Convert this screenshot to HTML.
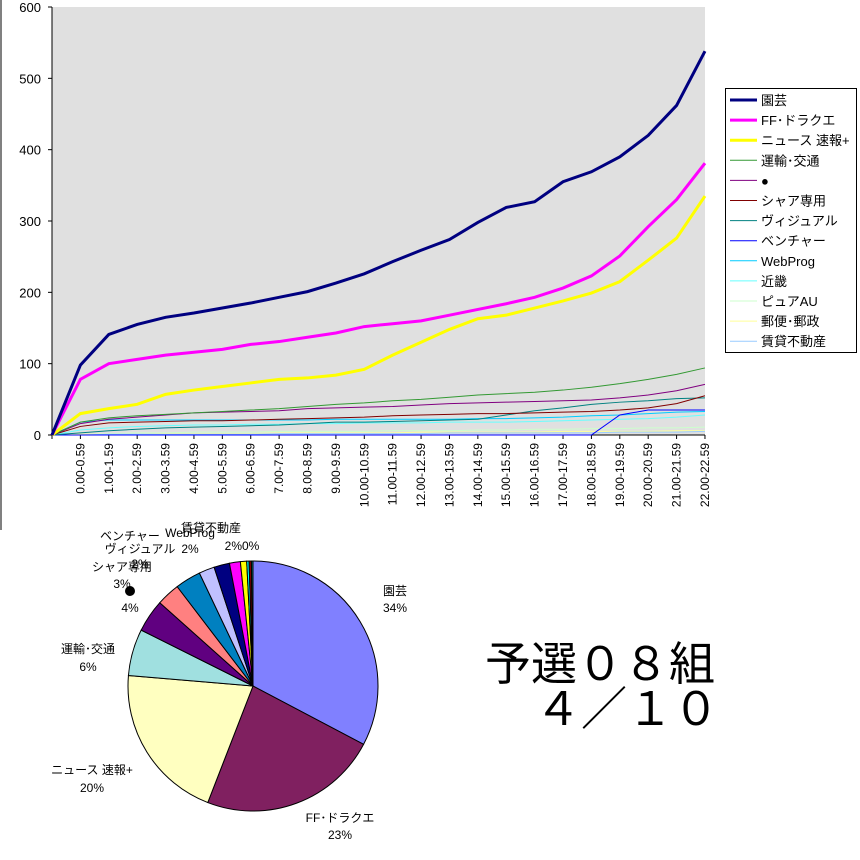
<!DOCTYPE html>
<html><head><meta charset="utf-8"><style>
html,body{margin:0;padding:0;background:#fff;width:860px;height:860px;overflow:hidden}
text{font-family:"Liberation Sans","Noto Sans CJK JP",sans-serif}
</style></head><body>
<svg id="s" width="860" height="860" xmlns="http://www.w3.org/2000/svg">
<line x1="1" y1="0" x2="1" y2="530" stroke="#000"/>
<rect x="52" y="7" width="653" height="428" fill="#e0e0e0"/>
<g id="g"></g>
<rect x="725.5" y="88.5" width="131" height="264" fill="#fff" stroke="#000"/>
<g id="leg"></g>
<text x="485" y="680" font-size="46">予選０８組</text>
<text x="535" y="725" font-size="46">４／１０</text>
<g id="pie"></g>
</svg>
<script>
const NS="http://www.w3.org/2000/svg";
function el(p,t,a,txt){const e=document.createElementNS(NS,t);for(const k in a)e.setAttribute(k,a[k]);if(txt!==undefined)e.textContent=txt;p.appendChild(e);return e;}
const g=document.getElementById('g');
const X=i=>52+i*28.39, Y=v=>435-v*428/600;
el(g,'line',{x1:52,y1:7,x2:52,y2:435,stroke:'#000'});
el(g,'line',{x1:52,y1:435,x2:705,y2:435,stroke:'#000'});
for(let v=0;v<=600;v+=100){el(g,'line',{x1:48,y1:Y(v),x2:52,y2:Y(v),stroke:'#000'});el(g,'text',{x:41,y:Y(v)+5,'font-size':13,'text-anchor':'end'},v);}
for(let i=0;i<=23;i++)el(g,'line',{x1:X(i),y1:435,x2:X(i),y2:439,stroke:'#000'});
for(let i=0;i<23;i++){const x=X(i+1)+4;el(g,'text',{x:x,y:443,'font-size':12,transform:`rotate(-90 ${x} 443)`,'text-anchor':'end'},i+'.00-'+i+'.59');}
const series=[
['#000080',3,[0,98,141,155,165,171,178,185,193,201,213,226,243,259,274,298,319,327,355,369,390,420,462,538],'園芸'],
['#ff00ff',3,[0,78,100,106,112,116,120,127,131,137,143,152,156,160,168,176,184,193,206,223,251,292,330,381],'FF･ドラクエ'],
['#ffff00',3,[0,30,37,43,57,63,68,73,78,80,84,92,112,130,148,163,168,178,188,199,215,245,276,335],'ニュース 速報+'],
['#339933',1,[0,18,24,27,29,31,33,35,37,40,43,45,48,50,53,56,58,60,63,67,72,78,85,94],'運輸･交通'],
['#800080',1,[0,16,22,25,28,31,32,33,34,37,38,39,40,42,44,45,46,47,48,49,52,56,62,71],'●'],
['#800000',1,[0,12,17,18,19,20,20,21,22,23,24,25,27,28,29,30,30,31,32,33,35,38,44,55],'シャア専用'],
['#008080',1,[0,3,6,8,10,11,12,13,14,16,18,18,19,20,21,22,28,34,38,43,46,48,51,52],'ヴィジュアル'],
['#0000ff',1,[0,0,0,0,0,0,0,0,0,0,0,0,0,0,0,0,0,0,0,0,28,35,35,35],'ベンチャー'],
['#00ccff',1,[0,18,21,21,21,21,21,21,21,21,22,22,22,22,22,23,23,24,25,27,28,30,32,33],'WebProg'],
['#66ffff',1,[0,7,10,12,13,14,14,15,15,16,16,17,17,17,18,18,18,19,20,21,22,23,25,28],'近畿'],
['#ccffcc',1,[0,1,2,3,3,4,4,4,5,5,5,5,6,6,6,7,7,8,8,9,9,10,10,11],'ピュアAU'],
['#ffff99',1,[0,1,1,1,2,2,2,2,3,3,3,3,3,4,4,4,4,4,5,5,5,5,6,6],'郵便･郵政'],
['#99ccff',1,[0,0,1,1,1,1,1,1,2,2,2,2,2,2,3,3,3,3,3,3,4,4,4,5],'賃貸不動産']];
const order=[10,11,12,9,8,7,6,5,4,3,2,1,0];
for(const k of order){const s=series[k];el(g,'polyline',{points:s[2].map((v,i)=>X(i)+','+Y(v)).join(' '),fill:'none',stroke:s[0],'stroke-width':s[1]});}
const leg=document.getElementById('leg');
series.forEach((s,i)=>{const y=100+i*20.1;el(leg,'line',{x1:730,y1:y,x2:757,y2:y,stroke:s[0],'stroke-width':s[1]});el(leg,'text',{x:761,y:y+5,'font-size':13},s[3]);});
const pie=document.getElementById('pie');
const cx=253,cy=686,r=125;
const sl=[[32.5,'#8080ff'],[23,'#802060'],[20.3,'#ffffc0'],[6,'#a0e0e0'],[4.2,'#600080'],[3,'#ff8080'],[3.3,'#0080c0'],[2,'#c0c0ff'],[2,'#000080'],[1.4,'#ff00ff'],[0.8,'#ffff00'],[0.3,'#00ffff'],[0.3,'#800000'],[0.2,'#008080']];
const tot=sl.reduce((a,b)=>a+b[0],0);let a0=-Math.PI/2;
for(const [v,c] of sl){const a1=a0+v/tot*2*Math.PI;const p=(a)=>[cx+r*Math.cos(a),cy+r*Math.sin(a)];const [x0,y0]=p(a0),[x1,y1]=p(a1);
el(pie,'path',{d:`M${cx},${cy}L${x0},${y0}A${r},${r} 0 ${a1-a0>Math.PI?1:0} 1 ${x1},${y1}Z`,fill:c,stroke:'#000','stroke-width':1});a0=a1;}
const lab=[[383,595,'園芸','start'],[383,612,'34%','start'],[340,822,'FF･ドラクエ','middle'],[340,839,'23%','middle'],[92,774,'ニュース 速報+','middle'],[92,792,'20%','middle'],[88,653,'運輸･交通','middle'],[88,671,'6%','middle'],[130,612,'4%','middle'],[122,588,'3%','middle'],[122,571,'シャア専用','middle'],[140,553,'ヴィジュアル','middle'],[140,568,'2%','middle'],[130,540,'ベンチャー','middle'],[190,537,'WebProg','middle'],[190,553,'2%','middle'],[211,532,'賃貸不動産','middle'],[242,550,'2%0%','middle']];
for(const l of lab)el(pie,'text',{x:l[0],y:l[1],'font-size':12,'text-anchor':l[3]},l[2]);
el(pie,'circle',{cx:130,cy:591,r:5,fill:'#000'});
</script>
</body></html>
